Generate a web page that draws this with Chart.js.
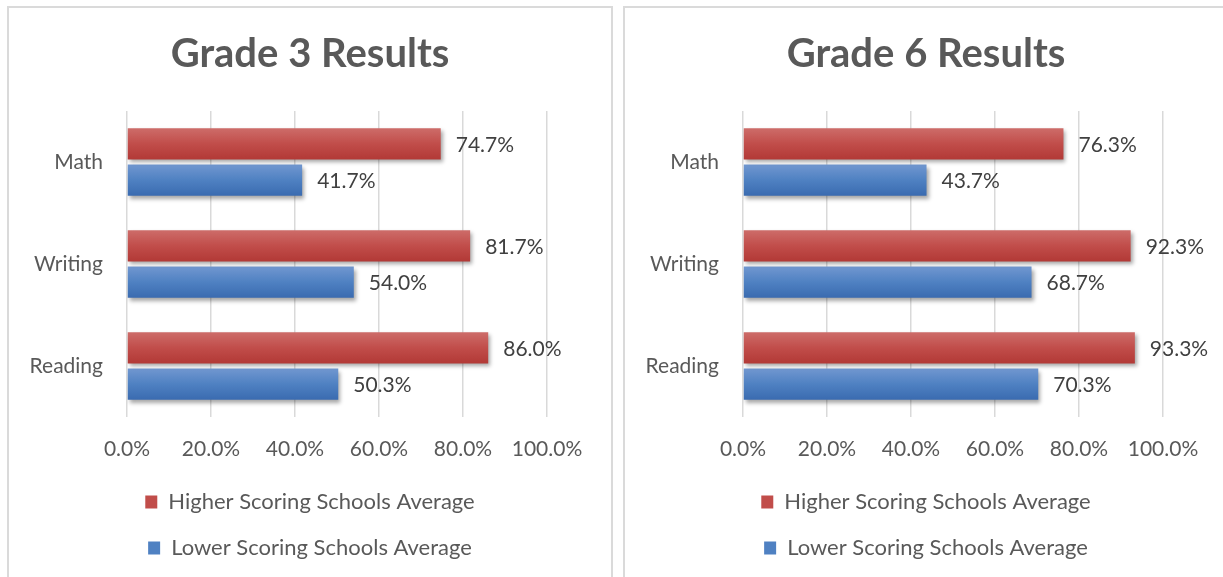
<!DOCTYPE html>
<html lang="en">
<head>
  <meta charset="UTF-8">
  <title>Grade 3 and Grade 6 Results</title>
  <script src="https://cdn.jsdelivr.net/npm/chart.js"></script>
  <style>
    body { margin: 0; background: #fff; overflow: hidden; }
    .panel {
      position: absolute; top: 6px; width: 602px; height: 600px;
      border: 2px solid #dadada; background: #fff;
    }
    .panel canvas { position: absolute; left: 0; top: 0; }
  </style>
</head>
<body>

<div class="panel" style="left:7px"><canvas id="grade3" width="602" height="580"></canvas></div>
<div class="panel" style="left:623px"><canvas id="grade6" width="602" height="580"></canvas></div>

<script>
// subjects, top to bottom
var subjects = ['Math', 'Writing', 'Reading'];
var seriesNames = ['Higher Scoring Schools Average', 'Lower Scoring Schools Average'];

// Grade 3 values (%)
var grade3Higher = [74.7, 81.7, 86.0];
var grade3Lower = [41.7, 54.0, 50.3];

// Grade 6 values (%)
var grade6Higher = [76.3, 92.3, 93.3];
var grade6Lower = [43.7, 68.7, 70.3];

var axisTicks = [0, 20, 40, 60, 80, 100];

Chart.defaults.font.family = 'Lato, "Open Sans", sans-serif';
Chart.defaults.color = '#595959';

// gradient stops for the excel-ish shaded bars
var redStops = ['#cd6c69', '#c14d4a', '#b23936'];
var blueStops = ['#7197d0', '#4f81c2', '#3a6bb0'];

// shaded fill + soft shadow under the bars
var barLook = {
  id: 'barLook',
  beforeDatasetsDraw: function (chart) {
    var ctx = chart.ctx;
    chart.data.datasets.forEach(function (ds, i) {
      var stops = i === 0 ? redStops : blueStops;
      chart.getDatasetMeta(i).data.forEach(function (el) {
        var top = el.y - el.height / 2;
        var g = ctx.createLinearGradient(0, top, 0, top + el.height);
        g.addColorStop(0, stops[0]);
        g.addColorStop(0.5, stops[1]);
        g.addColorStop(1, stops[2]);
        el.options = Object.assign({}, el.options, { backgroundColor: g });
      });
    });
    ctx.save();
    ctx.shadowColor = 'rgba(0,0,0,0.35)';
    ctx.shadowBlur = 4;
    ctx.shadowOffsetX = 2;
    ctx.shadowOffsetY = 3;
  },
  afterDatasetsDraw: function (chart) {
    chart.ctx.restore();
  }
};

// value labels to the right of each bar
var valueLabels = {
  id: 'valueLabels',
  afterDraw: function (chart) {
    var ctx = chart.ctx;
    ctx.save();
    ctx.font = '21px ' + Chart.defaults.font.family;
    ctx.fillStyle = '#404040';
    ctx.textAlign = 'left';
    ctx.textBaseline = 'middle';
    chart.data.datasets.forEach(function (ds, i) {
      chart.getDatasetMeta(i).data.forEach(function (el, j) {
        ctx.fillText(ds.data[j].toFixed(1) + '%', el.x + 15, el.y + 1);
      });
    });
    ctx.restore();
  }
};

function makeChart(id, title, higher, lower) {
  return new Chart(document.getElementById(id), {
    type: 'bar',
    data: {
      labels: subjects,
      datasets: [
        { label: seriesNames[0], data: higher, backgroundColor: redStops[1] },
        { label: seriesNames[1], data: lower, backgroundColor: blueStops[1] }
      ]
    },
    options: {
      indexAxis: 'y',
      responsive: false,
      animation: false,
      categoryPercentage: 0.71,
      barPercentage: 0.86,
      layout: { padding: { left: 0, right: 0, top: 0, bottom: 19 } },
      scales: {
        x: {
          min: 0,
          max: 100,
          afterBuildTicks: function (scale) {
            scale.ticks = axisTicks.map(function (v) { return { value: v }; });
          },
          afterFit: function (scale) { scale.height = 50; },
          grid: { color: '#d9d9d9', lineWidth: 1.5, drawTicks: false },
          border: { display: false },
          ticks: {
            padding: 20,
            font: { size: 21 },
            color: '#595959',
            callback: function (v) { return v.toFixed(1) + '%'; }
          }
        },
        y: {
          afterFit: function (scale) { scale.width = 118; },
          grid: { display: false },
          border: { display: false },
          ticks: { padding: 16, font: { size: 21 }, color: '#595959' }
        },
        // empty right-hand axis, only reserves room so the title and legend sit centred
        y2: {
          type: 'category',
          position: 'right',
          afterFit: function (scale) { scale.width = 64; },
          grid: { display: false },
          border: { display: false },
          ticks: { display: false }
        }
      },
      plugins: {
        title: {
          display: true,
          text: title,
          color: '#595959',
          font: { size: 40, weight: 'bold' },
          padding: { top: 22, bottom: 33 }
        },
        legend: {
          position: 'bottom',
          labels: {
            boxWidth: 12,
            boxHeight: 13,
            padding: 24,
            color: '#595959',
            font: { size: 22 }
          }
        },
        tooltip: { enabled: false }
      }
    },
    plugins: [barLook, valueLabels]
  });
}

makeChart('grade3', 'Grade 3 Results', grade3Higher, grade3Lower);
makeChart('grade6', 'Grade 6 Results', grade6Higher, grade6Lower);
</script>

</body>
</html>
